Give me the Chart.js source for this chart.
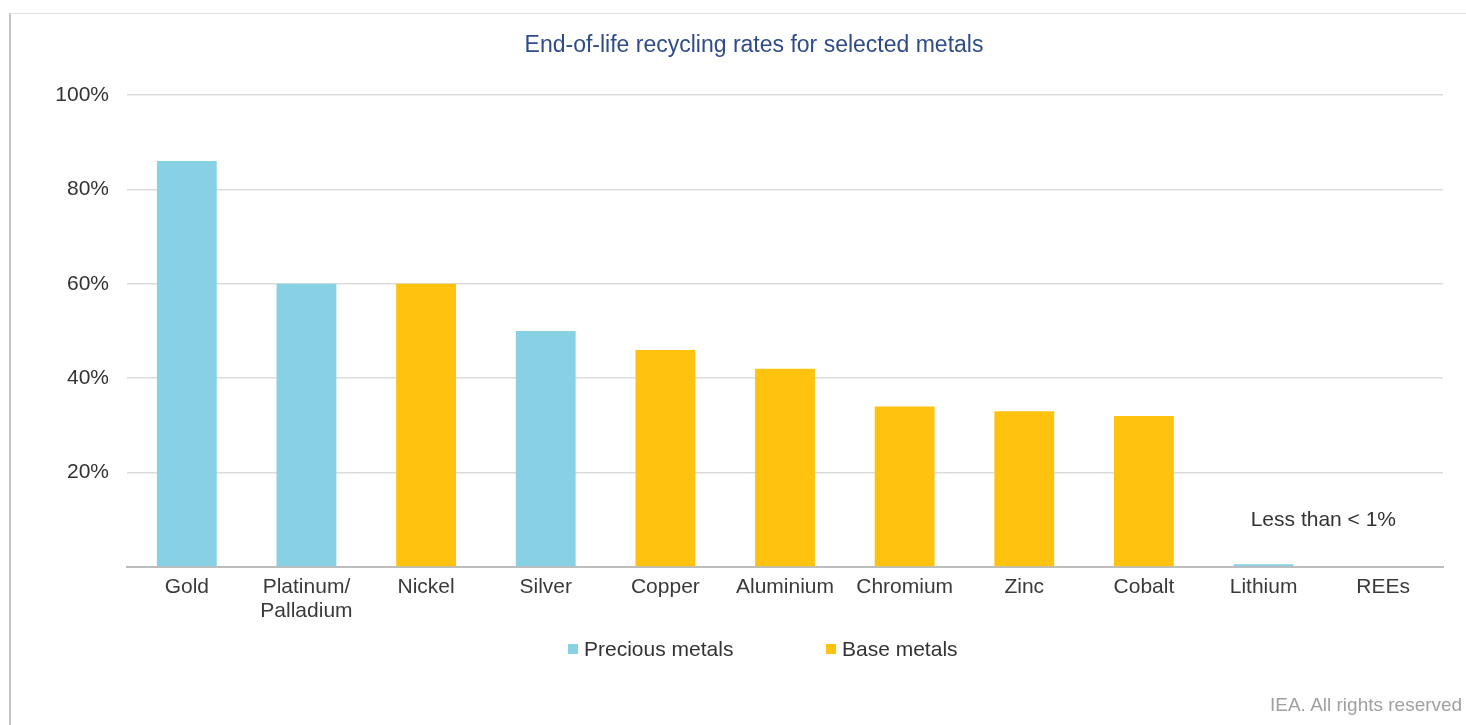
<!DOCTYPE html>
<html>
<head>
<meta charset="utf-8">
<script src="https://cdn.jsdelivr.net/npm/chart.js@4.4.1/dist/chart.umd.min.js"></script>
<style>
  html, body { margin: 0; padding: 0; background: #fff; overflow: hidden; }
  #wrap { position: relative; width: 1466px; height: 725px; overflow: hidden; }
  #frame { position: absolute; left: 9px; top: 13px; right: 0; bottom: 0;
    border-left: 2px solid #c4c4c4; border-top: 1px solid #e4e4e4; pointer-events: none; }
  #credit { position: absolute; left: 1270px; top: 694px; white-space: nowrap;
    font: 19px "Liberation Sans", Arial, sans-serif; color: #a0a0a0; }
</style>
</head>
<body>
<div id="wrap">
  <canvas id="mycanvas" width="1466" height="725"></canvas>
  <div id="frame"></div>
  <div id="credit">IEA. All rights reserved</div>
</div>
<script>
var chartTitle = "End-of-life recycling rates for selected metals";
var metals = ["Gold", ["Platinum/", "Palladium"], "Nickel", "Silver", "Copper", "Aluminium", "Chromium", "Zinc", "Cobalt", "Lithium", "REEs"];
var rates = [86, 60, 60, 50, 46, 42, 34, 33, 32, 0.6, 0];
var groups = ["precious", "precious", "base", "precious", "base", "base", "base", "base", "base", "precious", "base"];
var yTicks = [0, 20, 40, 60, 80, 100];
var noteText = "Less than < 1%";

var preciousData = [];
var baseData = [];
for (var i in rates) {
	preciousData.push(groups[i] == "precious" ? rates[i] : null);
	baseData.push(groups[i] == "base" ? rates[i] : null);
}

var FONT = "'Liberation Sans', Arial, sans-serif";

// title, legend and the "< 1%" note
var decor = {
	id: "decor",
	afterDraw: function(chart) {
		var ctx = chart.ctx;
		ctx.save();
		ctx.textBaseline = "middle";

		ctx.font = "23px " + FONT;
		ctx.fillStyle = "#2f4b8a";
		ctx.textAlign = "center";
		ctx.fillText(chartTitle, 754, 46);

		var xs = chart.scales.x, ys = chart.scales.y;
		ctx.font = "21px " + FONT;
		ctx.fillStyle = "#333";
		var nx = (xs.getPixelForValue(9) + xs.getPixelForValue(10)) / 2;
		ctx.fillText(noteText, nx, ys.getPixelForValue(10));

		var legendX = [568, 826];
		ctx.textAlign = "left";
		chart.data.datasets.forEach(function(ds, k) {
			ctx.fillStyle = ds.backgroundColor;
			ctx.fillRect(legendX[k], 644, 10, 10);
			ctx.fillStyle = "#333";
			ctx.fillText(ds.label, legendX[k] + 16, 650);
		});
		ctx.restore();
	}
};

var chartdata = {
	labels: metals,
	datasets: [
		{
			label: "Precious metals",
			backgroundColor: "#88d0e3",
			data: preciousData
		},
		{
			label: "Base metals",
			backgroundColor: "#ffc20e",
			data: baseData
		}
	]
};

var ctx = document.getElementById("mycanvas");

var BarGraph = new Chart(ctx, {
	type: "bar",
	data: chartdata,
	plugins: [decor],
	options: {
		responsive: false,
		animation: false,
		layout: { padding: { top: 95, left: 20, right: 23, bottom: 78 } },
		datasets: { bar: { categoryPercentage: 1, barPercentage: 0.5 } },
		plugins: {
			legend: { display: false },
			title: { display: false },
			tooltip: { enabled: false }
		},
		scales: {
			x: {
				stacked: true,
				grid: { display: false, drawTicks: false },
				border: { display: true, color: "#bdbdbd", width: 2 },
				ticks: { font: { size: 21, family: FONT, lineHeight: 1.15 }, color: "#3a3a3a", padding: 8, maxRotation: 0, autoSkip: false },
				afterFit: function(s) { s.height = 80; }
			},
			y: {
				stacked: true,
				min: 0,
				max: 100,
				afterBuildTicks: function(s) { s.ticks = yTicks.map(function(v) { return { value: v }; }); },
				grid: { color: "#dcdcdc", lineWidth: 1.5, drawTicks: false },
				border: { display: false },
				ticks: {
					font: { size: 21, family: FONT },
					color: "#333",
					padding: 18,
					callback: function(v) { return v === 0 ? "" : v + "%"; }
				},
				afterFit: function(s) { s.width = 107; }
			}
		}
	}
});
</script>
</body>
</html>
